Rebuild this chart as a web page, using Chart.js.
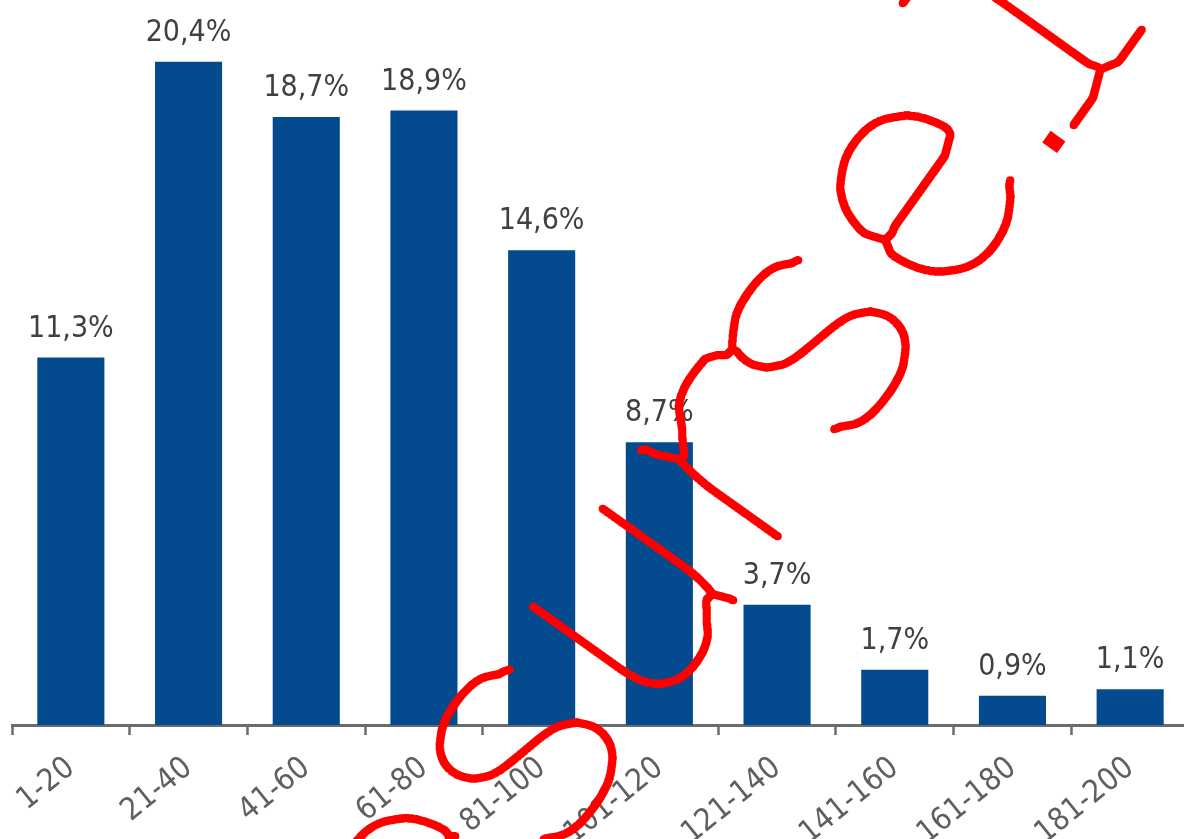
<!DOCTYPE html>
<html><head><meta charset="utf-8">
<script src="https://cdn.jsdelivr.net/npm/chart.js@4/dist/chart.umd.min.js"></script>
<style>
html,body{margin:0;padding:0;background:#fff;overflow:hidden;width:1184px;height:839px}
#wrap{position:absolute;left:0;top:0;width:1200px;height:839px}
</style>
</head><body><div id="wrap"><canvas id="c" width="1200" height="839"></canvas></div>
<script>
const categories = ['1-20','21-40','41-60','61-80','81-100','101-120','121-140','141-160','161-180','181-200'];
const shares = [11.3, 20.4, 18.7, 18.9, 14.6, 8.7, 3.7, 1.7, 0.9, 1.1];
const valueLabels = shares.map(v => v.toFixed(1).replace('.', ',') + '%');
const watermarkChars = ['e','s','u','r','s','e','.','I'];
const watermarkSteps = [-175, 0, 185, 365, 505, 688, 806, 890];

const labelFont = "30px 'DejaVu Sans Condensed', 'DejaVu Sans'";

const valueLabelsPlugin = {
  id: 'valueLabels',
  afterDatasetsDraw(chart) {
    const ctx = chart.ctx;
    const meta = chart.getDatasetMeta(0);
    ctx.save();
    ctx.font = labelFont;
    ctx.fillStyle = '#404040';
    ctx.textAlign = 'center';
    ctx.textBaseline = 'alphabetic';
    meta.data.forEach((bar, i) => ctx.fillText(valueLabels[i], bar.x, bar.y - 21));
    ctx.restore();
  }
};

// thin a binary mask to its centre line (Zhang-Suen), working on a list of set pixels
function thinMask(m, w, list) {
  let active = list;
  let changed = true;
  while (changed) {
    changed = false;
    for (let pass = 0; pass < 2; pass++) {
      const del = [];
      for (let k = 0; k < active.length; k++) {
        const i = active[k];
        if (!m[i]) continue;
        const p2 = m[i - w], p3 = m[i - w + 1], p4 = m[i + 1], p5 = m[i + w + 1],
              p6 = m[i + w], p7 = m[i + w - 1], p8 = m[i - 1], p9 = m[i - w - 1];
        const B = p2 + p3 + p4 + p5 + p6 + p7 + p8 + p9;
        if (B < 2 || B > 6) continue;
        let A = 0;
        if (p2 === 0 && p3 === 1) A++; if (p3 === 0 && p4 === 1) A++;
        if (p4 === 0 && p5 === 1) A++; if (p5 === 0 && p6 === 1) A++;
        if (p6 === 0 && p7 === 1) A++; if (p7 === 0 && p8 === 1) A++;
        if (p8 === 0 && p9 === 1) A++; if (p9 === 0 && p2 === 1) A++;
        if (A !== 1) continue;
        if (pass === 0) { if (p2 && p4 && p6) continue; if (p4 && p6 && p8) continue; }
        else { if (p2 && p4 && p8) continue; if (p2 && p6 && p8) continue; }
        del.push(i);
      }
      if (del.length) { changed = true; for (const i of del) m[i] = 0; }
    }
    active = active.filter(i => m[i]);
  }
  return active;
}

const watermarkPlugin = {
  id: 'watermark',
  afterDraw(chart) {
    const PAD = 200, S = 2;
    const W = (chart.width + 2 * PAD) * S, H = (chart.height + 2 * PAD) * S;
    const tmp = document.createElement('canvas'); tmp.width = W; tmp.height = H;
    const o = tmp.getContext('2d');
    const ang = -54.5 * Math.PI / 180;
    const ux = Math.cos(ang), uy = Math.sin(ang), wx = -uy, wy = ux;
    const ox = 528, oy = 757, base = 91, size = 360;
    const pos = t => [ox + t * ux + base * wx, oy + t * uy + base * wy];
    o.font = size + "px 'Liberation Mono'";
    o.textAlign = 'center'; o.textBaseline = 'alphabetic';
    o.fillStyle = '#000';
    o.filter = 'blur(9px)';
    const dots = [];
    watermarkChars.forEach((ch, i) => {
      const t = watermarkSteps[i];
      if (ch === '.') { dots.push(t); return; }
      const [px, py] = pos(t);
      o.setTransform(S, 0, 0, S, 0, 0);
      o.translate(px + PAD, py + PAD); o.rotate(ang);
      o.fillText(ch, 0, 0);
    });
    const img = o.getImageData(0, 0, W, H).data;
    const m = new Uint8Array(W * H);
    const list = [];
    for (let y = 1; y < H - 1; y++) {
      const row = y * W;
      for (let x = 1; x < W - 1; x++) {
        if (img[(row + x) * 4 + 3] >= 120) { m[row + x] = 1; list.push(row + x); }
      }
    }
    const skel = thinMask(m, W, list);
    const ctx = chart.ctx;
    ctx.save();
    ctx.fillStyle = '#ff0000';
    ctx.beginPath();
    const r = 4.1;
    for (const i of skel) {
      const cx = (i % W) / S - PAD + 0.25, cy = Math.floor(i / W) / S - PAD + 0.25;
      if (cx < -10 || cy < -10 || cx > chart.width + 10 || cy > chart.height + 10) continue;
      ctx.moveTo(cx + r, cy);
      ctx.arc(cx, cy, r, 0, Math.PI * 2);
    }
    ctx.fill('nonzero');
    // full stop drawn solid
    dots.forEach(t => {
      const px = ox + t * ux + 80 * wx, py = oy + t * uy + 80 * wy;
      ctx.setTransform(1, 0, 0, 1, px, py);
      ctx.rotate(ang);
      ctx.font = "125px 'Liberation Mono'";
      ctx.textAlign = 'center'; ctx.textBaseline = 'alphabetic';
      ctx.fillText('.', 0, 0);
    });
    ctx.restore();
  }
};

new Chart(document.getElementById('c'), {
  type: 'bar',
  data: {
    labels: categories,
    datasets: [{
      data: shares,
      backgroundColor: '#034a8e',
      borderWidth: 0,
      barPercentage: 0.57,
      categoryPercentage: 1
    }]
  },
  options: {
    responsive: false,
    animation: false,
    devicePixelRatio: 1,
    layout: { padding: { left: 12, right: 11, top: 0, bottom: 0 } },
    plugins: { legend: { display: false }, tooltip: { enabled: false } },
    scales: {
      x: {
        offset: true,
        grid: { offset: true, drawOnChartArea: false, drawTicks: true, tickLength: 10, tickWidth: 2.5, tickColor: '#6b6b6b' },
        border: { display: true, color: '#6b6b6b', width: 3 },
        ticks: {
          color: '#5f5f5f',
          font: { family: "'DejaVu Sans Condensed', 'DejaVu Sans'", size: 31 },
          minRotation: 39, maxRotation: 39, autoSkip: false, padding: 15
        },
        afterFit(s) { s.height = 114; }
      },
      y: { display: false, min: 0, max: 22.3 }
    }
  },
  plugins: [valueLabelsPlugin, watermarkPlugin]
});
</script>
</body></html>
